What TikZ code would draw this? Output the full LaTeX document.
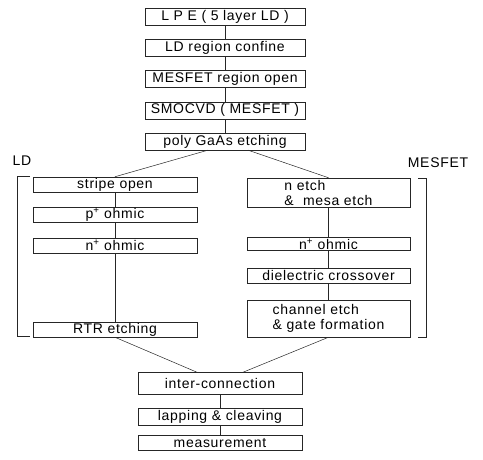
\documentclass[tikz,border=0pt]{standalone}
\usepackage{fontspec}
\setmainfont[LetterSpace=5]{Liberation Sans}
\usetikzlibrary{positioning}

\begin{document}
\begin{tikzpicture}[
x=1pt, y=-1pt,
node distance=13.6pt,
stepbox/.style={draw=black!85, line width=0.5pt, minimum width=160pt, minimum height=17pt, inner sep=0.5pt, font=\fontsize{14}{15}\selectfont},
ldbox/.style={stepbox, minimum width=164pt, minimum height=15pt},
fetbox/.style={stepbox, minimum width=163pt, minimum height=15pt, align=left},
endbox/.style={stepbox, minimum width=164pt},
ln/.style={draw=black!85, line width=0.5pt},
lbl/.style={font=\fontsize{14}{15}\selectfont, inner sep=0pt}
]
\useasboundingbox (0,0) rectangle (483,459);
% common steps
\node[stepbox] (lpe) at (225,17) {L P E ( 5 layer LD )};
\node[stepbox, below=of lpe] (confine) {LD region confine};
\node[stepbox, below=of confine] (open) {MESFET region open};
\node[stepbox, below=of open] (smocvd) {SMOCVD ( MESFET )};
\node[stepbox, below=of smocvd] (poly) {poly GaAs etching};
% LD branch
\node[lbl] (ldlabel) at (22,161) {LD};
\node[ldbox] (stripe) at (115,184.5) {stripe open};
\node[ldbox, below=15pt of stripe] (pohm) {p\textsuperscript{+} ohmic};
\node[ldbox, below=15pt of pohm] (nohmld) {n\textsuperscript{+} ohmic};
\node[ldbox] (rtr) at (115,329.5) {RTR etching};
\draw[ln] (30,176) -- (17,176) -- (17,336) -- (30,336);
% MESFET branch
\node[lbl] (fetlabel) at (438,163) {MESFET};
\node[fetbox, minimum height=29pt] (netch) at (328.5,192.5) {n etch\\\&\ \ mesa etch};
\node[fetbox, minimum height=13pt] (nohm) at (328.5,244) {n\textsuperscript{+} ohmic};
\node[fetbox] (diel) at (328.5,275.5) {dielectric crossover};
\node[fetbox, minimum height=37pt] (chan) at (328.5,318.5) {channel etch\\\& gate formation};
\draw[ln] (418,178) -- (426,178) -- (426,337) -- (418,337);
% final steps
\node[endbox, minimum height=22pt] (inter) at (220,383.5) {inter-connection};
\node[endbox] (lap) at (220,416.5) {lapping \& cleaving};
\node[endbox, minimum height=15pt] (meas) at (220,443) {measurement};
% connectors
\draw[ln] (lpe) -- (confine);
\draw[ln] (confine) -- (open);
\draw[ln] (open) -- (smocvd);
\draw[ln] (smocvd) -- (poly);
\draw[ln] ([xshift=-17pt]poly.south) -- (stripe.north);
\draw[ln] ([xshift=23pt]poly.south) -- (netch.north);
\draw[ln] (stripe) -- (pohm);
\draw[ln] (pohm) -- (nohmld);
\draw[ln] (nohmld) -- (rtr);
\draw[ln] (netch) -- (nohm);
\draw[ln] (nohm) -- (diel);
\draw[ln] (diel) -- (chan);
\draw[ln] (rtr.south) -- ([xshift=-23pt]inter.north);
\draw[ln] (chan.south) -- ([xshift=23pt]inter.north);
\draw[ln] (inter) -- (lap);
\draw[ln] (lap) -- (meas);
\end{tikzpicture}
\end{document}
